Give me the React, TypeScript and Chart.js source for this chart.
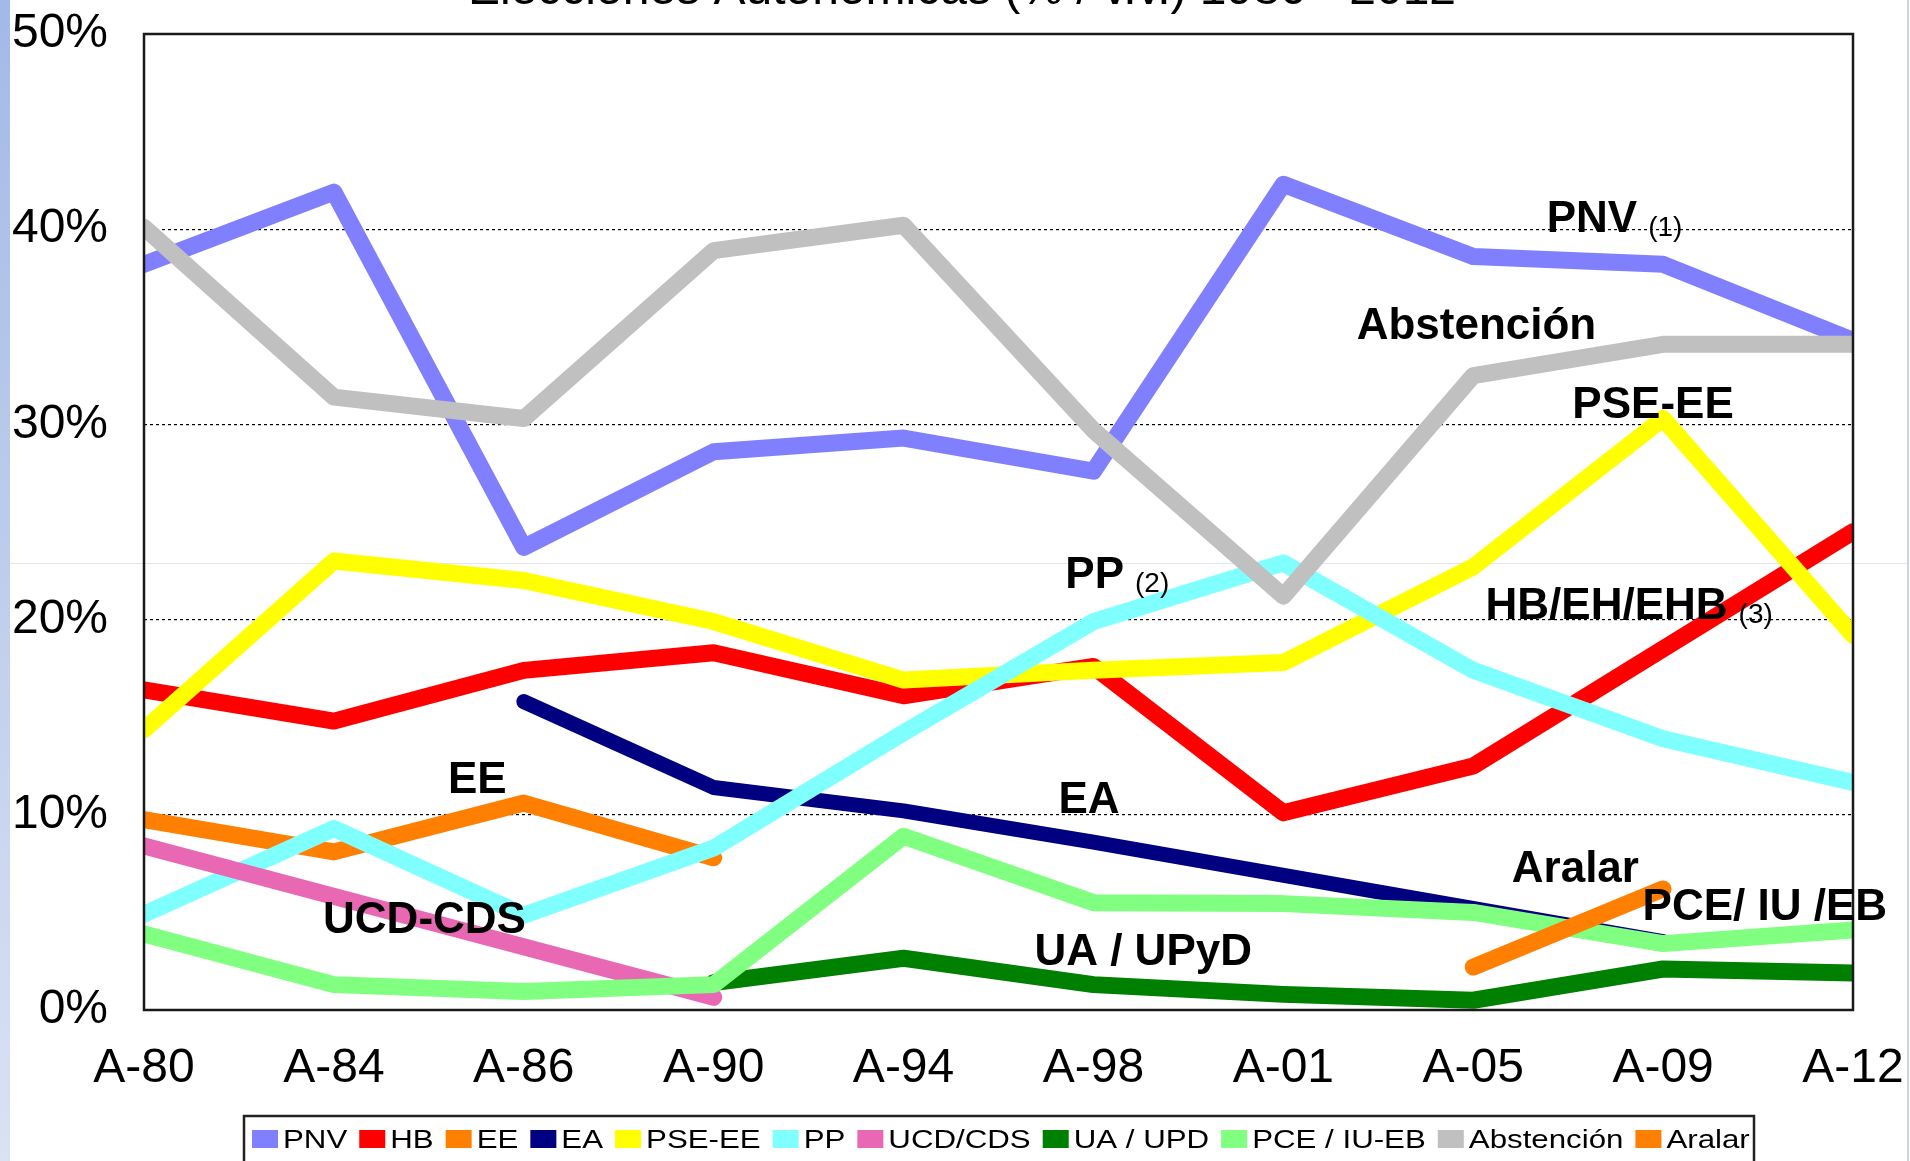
import React, { useEffect, useRef } from 'react';
import { Chart, registerables } from 'chart.js';

Chart.register(...registerables);

// ---------- data ----------
const categories = ['A-80', 'A-84', 'A-86', 'A-90', 'A-94', 'A-98', 'A-01', 'A-05', 'A-09', 'A-12'];

const pnv = [38.2, 41.9, 23.7, 28.6, 29.3, 27.6, 42.3, 38.6, 38.2, 34.3];
const hb = [16.4, 14.8, 17.4, 18.3, 16.1, 17.6, 10.1, 12.5, null, 24.5];
const ee = [9.75, 8.1, 10.6, 7.8, null, null, null, null, null, null];
const ea = [null, null, 15.8, 11.4, 10.2, 8.6, null, null, 3.5, null];
const pseEe = [14.35, 23.0, 22.0, 19.9, 16.9, 17.4, 17.8, 22.7, 30.3, 19.2];
const pp = [4.9, 9.3, 4.85, 8.3, 14.2, 19.9, 22.9, 17.4, 13.9, 11.65];
const ucdCds = [8.4, null, null, 0.65, null, null, null, null, null, null];
const uaUpd = [null, null, null, 1.4, 2.65, 1.3, 0.8, 0.5, 2.1, 1.9];
const pceIuEb = [3.9, 1.3, 0.95, 1.3, 8.9, 5.5, 5.45, 5.0, 3.4, 4.1];
const abstencion = [40.1, 31.4, 30.3, 38.9, 40.2, 29.7, 21.2, 32.5, 34.1, 34.1];
const aralar = [null, null, null, null, null, null, null, 2.2, 6.2, null];

const seriesNames = ['PNV', 'HB', 'EE', 'EA', 'PSE-EE', 'PP', 'UCD/CDS', 'UA / UPD', 'PCE / IU-EB', 'Abstención', 'Aralar'];
const seriesColors = ['#8080FF', '#FF0000', '#FF8000', '#000080', '#FFFF00', '#80FFFF', '#E868B4', '#008000', '#80FF80', '#C0C0C0', '#FF8000'];

const yTicks = [0, 10, 20, 30, 40, 50];

const titleText = 'Elecciones Autonómicas (% / v.v.) 1980 - 2012';

// text annotations anchored in data coordinates (category index, value %)
const annotations = [
  { text: 'PNV', sub: '(1)', xi: 7.387, v: 39.86 },
  { text: 'Abstención', sub: '', xi: 6.386, v: 34.35 },
  { text: 'PSE-EE', sub: '', xi: 7.522, v: 30.33 },
  { text: 'PP', sub: '(2)', xi: 4.852, v: 21.62 },
  { text: 'HB/EH/EHB', sub: '(3)', xi: 7.065, v: 20.04 },
  { text: 'EE', sub: '', xi: 1.601, v: 11.12 },
  { text: 'EA', sub: '', xi: 4.816, v: 10.09 },
  { text: 'Aralar', sub: '', xi: 7.203, v: 6.58 },
  { text: 'PCE/ IU /EB', sub: '', xi: 7.892, v: 4.62 },
  { text: 'UCD-CDS', sub: '', xi: 0.943, v: 3.94 },
  { text: 'UA / UPyD', sub: '', xi: 4.689, v: 2.31 },
];

const FONT = '"Liberation Sans", Arial, Helvetica, sans-serif';

export default function App() {
  const ref = useRef<HTMLCanvasElement>(null);

  useEffect(() => {
    const canvas = ref.current;
    if (!canvas) return;
    const seriesValues = [pnv, hb, ee, ea, pseEe, pp, ucdCds, uaUpd, pceIuEb, abstencion, aralar];
    const n = seriesNames.length;

    const datasets = seriesNames.map((name, i) => ({
      label: name,
      data: seriesValues[i],
      borderColor: seriesColors[i],
      backgroundColor: seriesColors[i],
      borderWidth: i === 3 ? 15 : 17,
      pointRadius: 0,
      pointHoverRadius: 0,
      spanGaps: true,
      tension: 0,
      fill: false,
      borderCapStyle: 'round' as const,
      borderJoinStyle: 'round' as const,
      clip: 0,
      order: n - i,
    }));

    const decor = {
      id: 'decor',
      beforeDraw(chart: any) {
        const ctx = chart.ctx as CanvasRenderingContext2D;
        ctx.save();
        ctx.fillStyle = '#ffffff';
        ctx.fillRect(0, 0, chart.width, chart.height);
        // left gradient strip
        const g = ctx.createLinearGradient(0, 0, 0, chart.height);
        g.addColorStop(0, '#a3b9e6');
        g.addColorStop(1, '#dae2f3');
        ctx.fillStyle = g;
        ctx.fillRect(0, 0, 10, chart.height);
        // right thin line
        ctx.fillStyle = '#c8d4ee';
        ctx.fillRect(chart.width - 3, 0, 2, chart.height);
        // faint horizontal line
        ctx.fillStyle = '#e4e4ec';
        ctx.fillRect(10, 563, chart.width - 13, 1);
        ctx.restore();
      },
      afterDraw(chart: any) {
        const ctx = chart.ctx as CanvasRenderingContext2D;
        const a = chart.chartArea;
        const xs = chart.scales.x;
        const ys = chart.scales.y;
        ctx.save();
        // plot border
        ctx.strokeStyle = '#1a1a1a';
        ctx.lineWidth = 2.5;
        ctx.strokeRect(a.left, a.top, a.right - a.left, a.bottom - a.top);

        // annotations
        ctx.fillStyle = '#000';
        ctx.textBaseline = 'alphabetic';
        ctx.textAlign = 'left';
        annotations.forEach((an) => {
          const x = xs.getPixelForValue(an.xi);
          const y = ys.getPixelForValue(an.v);
          ctx.font = `bold 44px ${FONT}`;
          ctx.fillText(an.text, x, y);
          if (an.sub) {
            const w = ctx.measureText(an.text).width;
            ctx.font = `normal 28px ${FONT}`;
            ctx.fillText(an.sub, x + w + 11, y + 4);
          }
        });

        // title (mostly cut off at the top)
        ctx.font = `normal 48px ${FONT}`;
        ctx.textAlign = 'center';
        ctx.fillText(titleText, 962, 4);

        // legend
        const lx = 252;
        const baseY = 1148;
        const sx = 1.25;
        ctx.textAlign = 'left';
        ctx.font = `normal 25px ${FONT}`;
        let x = lx;
        chart.data.datasets.forEach((ds: any) => {
          ctx.fillStyle = ds.borderColor;
          ctx.fillRect(x, 1130, 26, 18);
          x += 31;
          ctx.fillStyle = '#000';
          ctx.save();
          ctx.translate(x, baseY);
          ctx.scale(sx, 1);
          ctx.fillText(ds.label, 0, 0);
          ctx.restore();
          x += ctx.measureText(ds.label).width * sx + 12;
        });
        ctx.strokeStyle = '#222';
        ctx.lineWidth = 2.5;
        ctx.strokeRect(244, 1116, 1510, 100);
        ctx.restore();
      },
    };

    const chart = new Chart(canvas, {
      type: 'line',
      data: { labels: categories, datasets: datasets as any },
      options: {
        animation: false,
        responsive: false,
        maintainAspectRatio: false,
        devicePixelRatio: 1,
        events: [],
        layout: { padding: { left: 0, top: 34, right: 57, bottom: 0 } },
        plugins: {
          legend: { display: false },
          title: { display: false },
          tooltip: { enabled: false },
        },
        scales: {
          x: {
            type: 'category',
            offset: false,
            grid: { display: false, drawTicks: false },
            border: { display: false },
            ticks: {
              autoSkip: false,
              maxRotation: 0,
              minRotation: 0,
              padding: 30,
              color: '#000',
              font: { family: FONT, size: 48 },
            },
            afterFit: (s: any) => {
              s.height = 151;
              s.paddingLeft = 0;
              s.paddingRight = 0;
              s.paddingTop = 0;
              s.paddingBottom = 0;
            },
          },
          y: {
            min: 0,
            max: 50,
            afterBuildTicks: (s: any) => {
              s.ticks = yTicks.map((v) => ({ value: v }));
            },
            grid: {
              drawTicks: false,
              lineWidth: 1.2,
              color: (c: any) => (c.tick && (c.tick.value === 0 || c.tick.value === 50) ? 'rgba(0,0,0,0)' : '#000'),
            },
            border: { display: false, dash: [3, 3] },
            ticks: {
              padding: 36,
              color: '#000',
              font: { family: FONT, size: 48 },
              callback: (v: any) => `${v}%`,
            },
            afterFit: (s: any) => {
              s.width = 144;
              s.paddingLeft = 0;
              s.paddingRight = 0;
              s.paddingTop = 0;
              s.paddingBottom = 0;
            },
          },
        },
      },
      plugins: [decor],
    });

    return () => {
      chart.destroy();
    };
  }, []);

  return (
    <div style={{ position: 'fixed', left: 0, top: 0, width: 1910, height: 1161, background: '#fff' }}>
      <canvas ref={ref} width={1910} height={1161} style={{ width: 1910, height: 1161, display: 'block' }} />
    </div>
  );
}
